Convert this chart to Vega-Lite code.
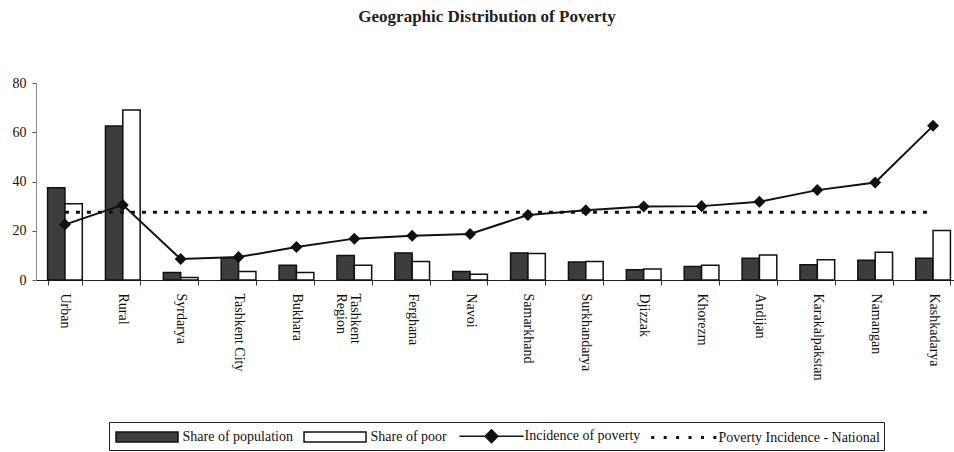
{
  "$schema": "https://vega.github.io/schema/vega-lite/v6.json",
  "width": 918,
  "height": 197,
  "autosize": {"type": "none"},
  "padding": {"left": 36, "top": 83, "right": 0, "bottom": 172},
  "background": "white",
  "config": {
    "view": {"stroke": null},
    "font": "Liberation Serif"
  },
  "title": {
    "text": "Geographic Distribution of Poverty",
    "font": "Liberation Serif",
    "fontSize": 17,
    "fontWeight": "bold",
    "color": "#222",
    "anchor": "middle",
    "dx": -8,
    "offset": 50
  },
  "data": {
    "values": [
      {"region": "Urban", "pop": 37.5, "poor": 31, "incidence": 22.5, "national": 27.5},
      {"region": "Rural", "pop": 62.5, "poor": 69, "incidence": 30.5, "national": 27.5},
      {"region": "Syrdarya", "pop": 3, "poor": 1, "incidence": 8.5, "national": 27.5},
      {"region": "Tashkent City", "pop": 9, "poor": 3.5, "incidence": 9.3, "national": 27.5},
      {"region": "Bukhara", "pop": 6, "poor": 3, "incidence": 13.4, "national": 27.5},
      {"region": "Tashkent Region", "pop": 10, "poor": 6, "incidence": 16.8, "national": 27.5},
      {"region": "Ferghana", "pop": 11, "poor": 7.5, "incidence": 18, "national": 27.5},
      {"region": "Navoi", "pop": 3.5, "poor": 2.3, "incidence": 18.7, "national": 27.5},
      {"region": "Samarkhand", "pop": 11, "poor": 10.8, "incidence": 26.4, "national": 27.5},
      {"region": "Surkhandarya", "pop": 7.3, "poor": 7.5, "incidence": 28.3, "national": 27.5},
      {"region": "Djizzak", "pop": 4.2, "poor": 4.5, "incidence": 29.8, "national": 27.5},
      {"region": "Khorezm", "pop": 5.5, "poor": 6, "incidence": 30, "national": 27.5},
      {"region": "Andijan", "pop": 8.8, "poor": 10.2, "incidence": 31.8, "national": 27.5},
      {"region": "Karakalpakstan", "pop": 6.2, "poor": 8.2, "incidence": 36.5, "national": 27.5},
      {"region": "Namangan", "pop": 8, "poor": 11.3, "incidence": 39.6, "national": 27.5},
      {"region": "Kashkadarya", "pop": 8.8, "poor": 20.1, "incidence": 62.6, "national": 27.5}
    ]
  },
  "encoding": {
    "x": {
      "field": "region",
      "type": "nominal",
      "sort": null,
      "scale": {"range": [0, 926], "paddingInner": 0.4, "paddingOuter": 0.2},
      "axis": {
        "title": null,
        "tickBand": "extent",
        "tickSize": 5,
        "tickColor": "#333",
        "domainColor": "#222",
        "labelAngle": 90,
        "labelAlign": "left",
        "labelBaseline": "middle",
        "labelPadding": 8,
        "labelFont": "Liberation Serif",
        "labelFontSize": 14,
        "labelColor": "#111",
        "labelLineHeight": 14,
        "labelExpr": "datum.label == 'Tashkent Region' ? ['Tashkent', 'Region'] : datum.label"
      }
    }
  },
  "layer": [
    {
      "transform": [
        {"fold": ["pop", "poor"], "as": ["key", "value"]},
        {"lookup": "key", "from": {"data": {"values": [
          {"key": "pop", "series": "Share of population"},
          {"key": "poor", "series": "Share of poor"}
        ]}, "key": "key", "fields": ["series"]}}
      ],
      "mark": {"type": "bar", "stroke": "#111", "strokeWidth": 1.5},
      "encoding": {
        "xOffset": {
          "field": "series",
          "type": "nominal",
          "scale": {"domain": ["Share of population", "Share of poor"], "paddingInner": 0, "paddingOuter": 0}
        },
        "y": {
          "field": "value",
          "type": "quantitative",
          "scale": {"domain": [0, 80], "nice": false},
          "axis": {
            "title": null,
            "values": [0, 20, 40, 60, 80],
            "grid": false,
            "tickSize": 4,
            "tickColor": "#555",
            "domainColor": "#888",
            "labelFont": "Liberation Serif",
            "labelFontSize": 14,
            "labelColor": "#111",
            "labelPadding": 6
          }
        },
        "fill": {
          "field": "series",
          "type": "nominal",
          "scale": {
            "domain": ["Share of population", "Share of poor", "Incidence of poverty", "Poverty Incidence - National"],
            "range": ["#3d3d3d", "#ffffff", "#111111", "#111111"]
          },
          "legend": {
            "orient": "none",
            "legendX": 73,
            "legendY": 339,
            "direction": "horizontal",
            "title": null,
            "strokeColor": "#222",
            "fillColor": "white",
            "padding": 4,
            "columnPadding": 8,
            "symbolSize": 324,
            "symbolOffset": 26.5,
            "symbolOpacity": 1,
            "labelFont": "Liberation Serif",
            "labelFontSize": 14,
            "labelColor": "#111",
            "labelLimit": 400,
            "labelOffset": 23
          }
        }
      }
    },
    {
      "mark": {"type": "line", "color": "#111", "strokeWidth": 3, "strokeDash": [4, 7], "strokeCap": "butt"},
      "encoding": {
        "y": {"field": "national", "type": "quantitative"}
      }
    },
    {
      "mark": {"type": "line", "color": "#111", "strokeWidth": 2},
      "encoding": {
        "y": {"field": "incidence", "type": "quantitative"}
      }
    },
    {
      "transform": [
        {"fold": ["incidence"], "as": ["key", "value"]},
        {"lookup": "key", "from": {"data": {"values": [
          {"key": "incidence", "series": "Incidence of poverty"}
        ]}, "key": "key", "fields": ["series"]}}
      ],
      "mark": {"type": "point", "filled": true, "size": 278, "fill": "#111", "stroke": "transparent", "strokeWidth": 0, "opacity": 1},
      "encoding": {
        "y": {"field": "value", "type": "quantitative"},
        "shape": {
          "field": "series",
          "type": "nominal",
          "scale": {
            "domain": ["Share of population", "Share of poor", "Incidence of poverty", "Poverty Incidence - National"],
            "range": [
              "M-3.72,-0.55H3.17V0.55H-3.72Z",
              "M-3.72,-0.55H3.17V0.55H-3.72Z",
              "M-3.56,0H3.56M0,-0.72L0.72,0L0,0.72L-0.72,0Z",
              "M-3.72,-0.083h0.166v0.166h-0.166Z M-2.34,-0.083h0.166v0.166h-0.166Z M-0.96,-0.083h0.166v0.166h-0.166Z M0.42,-0.083h0.166v0.166h-0.166Z M1.8,-0.083h0.166v0.166h-0.166Z M3.18,-0.083h0.166v0.166h-0.166Z"
            ]
          },
          "legend": {"title": null}
        }
      }
    }
  ]
}
